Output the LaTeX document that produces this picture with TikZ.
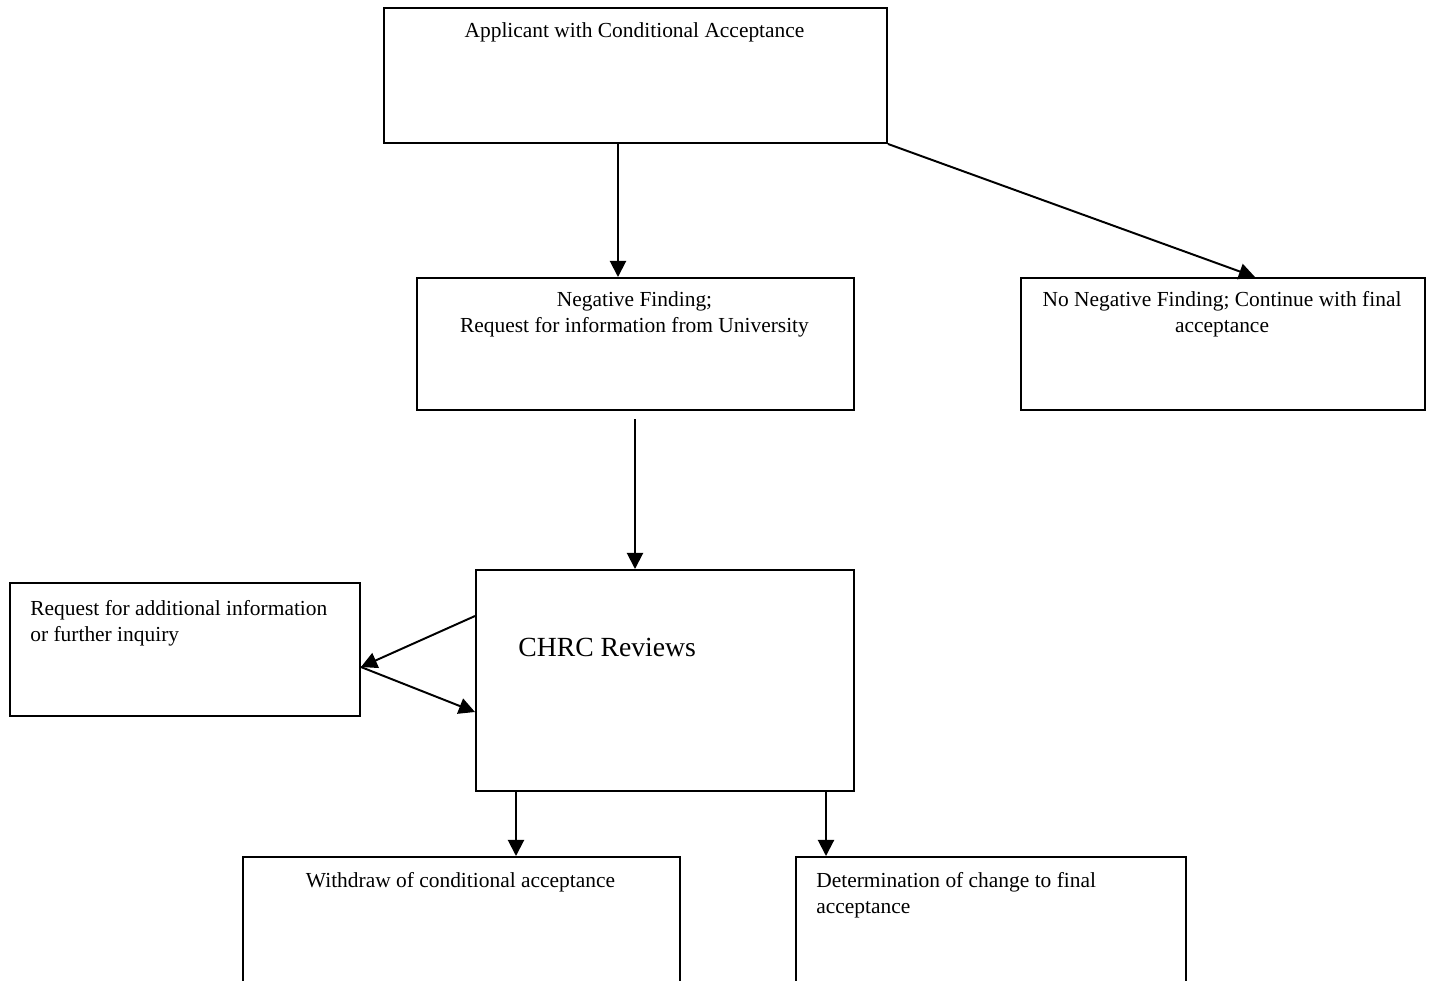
\documentclass[tikz,border=0pt]{standalone}
\usepackage{fontspec}
\setmainfont{Liberation Serif}
\usetikzlibrary{arrows.meta,calc}
\tikzset{
  box/.style={draw, line width=1.1pt, inner sep=0pt, anchor=north west},
  txt/.style={inner sep=0pt, font=\fontsize{12pt}{14.5pt}\selectfont},
  arr/.style={line width=1.1pt, -{Triangle[length=9pt,width=9pt]}},
}
\begin{document}
\begin{tikzpicture}[x=0.56pt,y=-0.56pt]
\useasboundingbox (0,0) rectangle (1433,980);
\clip (0,0) rectangle (1433,980);
% boxes
\node[box, minimum width={503*0.56pt}, minimum height={135*0.56pt}] (top) at (383,7) {};
\node[box, minimum width={437*0.56pt}, minimum height={132*0.56pt}] (neg) at (416,277) {};
\node[box, minimum width={404*0.56pt}, minimum height={132*0.56pt}] (noneg) at (1020,277) {};
\node[box, minimum width={378*0.56pt}, minimum height={221*0.56pt}] (chrc) at (475,569) {};
\node[box, minimum width={350*0.56pt}, minimum height={133*0.56pt}] (req) at (9,582) {};
\node[box, minimum width={437*0.56pt}, minimum height={160*0.56pt}] (wd) at (242,856) {};
\node[box, minimum width={390*0.56pt}, minimum height={160*0.56pt}] (det) at (795,856) {};
% texts (base anchor = baseline of last line)
\node[txt, anchor=base] (ttop) at (634.5,37.5) {Applicant with Conditional Acceptance};
\node[txt, anchor=base, align=center] (tneg) at (634.5,332) {Negative Finding;\\Request for information from University};
\node[txt, anchor=base, align=center] (tnoneg) at (1222,332) {No Negative Finding; Continue with final\\acceptance};
\node[inner sep=0pt, anchor=base west, font=\fontsize{15.5pt}{18pt}\selectfont] (tchrc) at (518,656.5) {CHRC Reviews};
\node[txt, anchor=base west, align=left] (treq) at (30,641.5) {Request for additional information\\or further inquiry};
\node[txt, anchor=base] (twd) at (460.5,887) {Withdraw of conditional acceptance};
\node[txt, anchor=base west, align=left] (tdet) at (816,913) {Determination of change to final\\acceptance};
% helper coordinates
\coordinate (c1) at (618,0);
\coordinate (c2) at (1255,0);
\coordinate (c3) at (0,616);
\coordinate (c4) at (0,667);
\coordinate (c5) at (0,712);
\coordinate (c6) at (516,0);
\coordinate (c7) at (826,0);
\coordinate (c8) at (635,0);
% connectors
\draw[arr] (top.south -| c1) -- (neg.north -| c1);
\draw[arr] (top.south east) -- (noneg.north -| c2);
\draw[arr] ([yshift=-4.5pt]neg.south -| c8) -- (chrc.north -| c8);
\draw[arr] (chrc.west |- c3) -- (req.east |- c4);
\draw[arr] (req.east |- c4) -- (chrc.west |- c5);
\draw[arr] (chrc.south -| c6) -- (wd.north -| c6);
\draw[arr] (chrc.south -| c7) -- (det.north -| c7);
\end{tikzpicture}
\end{document}
